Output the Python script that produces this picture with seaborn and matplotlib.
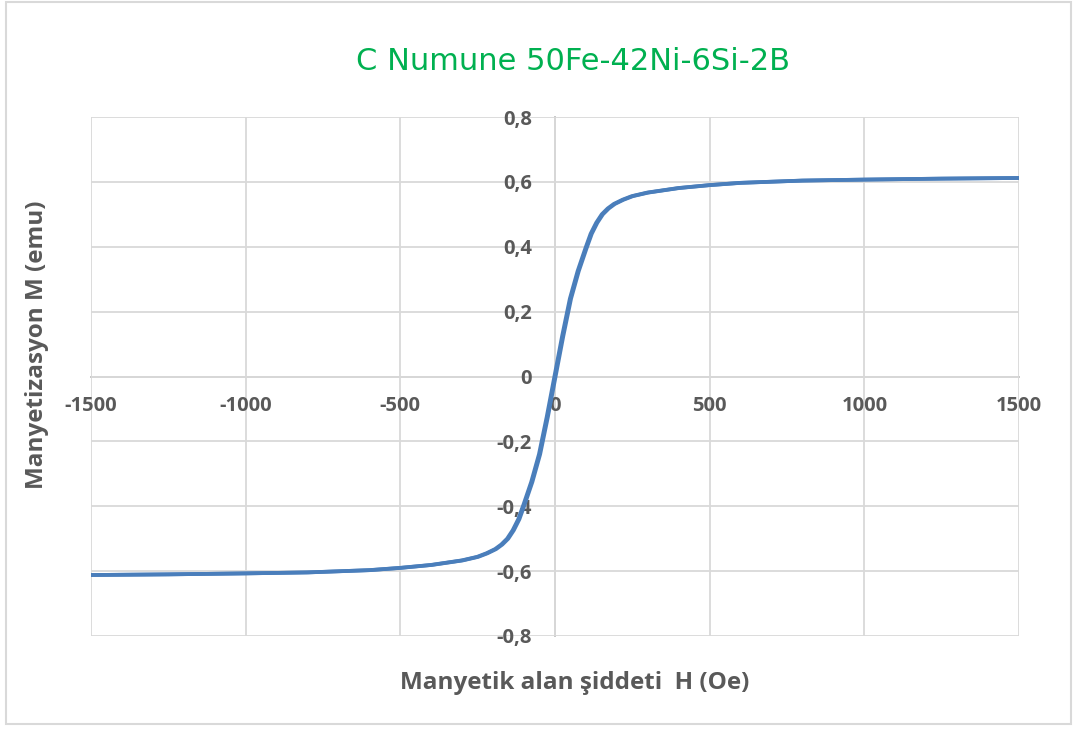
import numpy as np
import pandas as pd
import seaborn as sns
import matplotlib.pyplot as plt
from matplotlib.patches import Rectangle

# magnetization (emu), shared by both branches of the loop
m_values = [-0.612, -0.610, -0.607, -0.604, -0.597, -0.590, -0.581, -0.567, -0.556,
            -0.545, -0.532, -0.518, -0.500, -0.474, -0.440, -0.395, -0.325, -0.240,
            -0.125, 0.000, 0.125, 0.240, 0.325, 0.395, 0.440, 0.474, 0.500, 0.518,
            0.532, 0.545, 0.556, 0.567, 0.581, 0.590, 0.597, 0.604, 0.607, 0.610, 0.612]
# field values (Oe) for the rising and falling branch
h_up = [-1500, -1250, -998, -798, -598, -498, -398, -298, -248, -218, -190, -170,
        -151, -133, -115, -98, -73, -48, -23, 2, 27, 52, 77, 102, 119, 137, 155, 174,
        194, 222, 252, 302, 402, 502, 602, 802, 1002, 1250, 1500]
h_down = [-1500, -1250, -1002, -802, -602, -502, -402, -302, -252, -222, -194, -174,
          -155, -137, -119, -102, -77, -52, -27, -2, 23, 48, 73, 98, 115, 133, 151, 170,
          190, 218, 248, 298, 398, 498, 598, 798, 998, 1250, 1500]

x_ticks = [-1500, -1000, -500, 0, 500, 1000, 1500]
x_labels = ["-1500", "-1000", "-500", "0", "500", "1000", "1500"]
y_ticks = [-0.8, -0.6, -0.4, -0.2, 0, 0.2, 0.4, 0.6, 0.8]
y_labels = ["-0,8", "-0,6", "-0,4", "-0,2", "0", "0,2", "0,4", "0,6", "0,8"]

loop = pd.concat([
    pd.DataFrame({"H": h_up, "M": m_values, "branch": "up"}),
    pd.DataFrame({"H": h_down[::-1], "M": m_values[::-1], "branch": "down"}),
])

sns.set_style("white")
plt.rcParams["font.family"] = ["Open Sans", "DejaVu Sans"]
plt.rcParams["axes.unicode_minus"] = False

fig = plt.figure(figsize=(10.73, 7.29), dpi=100)
ax = fig.add_axes([91 / 1073, 1 - 636 / 729, 928 / 1073, 519 / 729])

sns.lineplot(data=loop, x="H", y="M", units="branch", estimator=None, sort=False,
             color="#4a7ebb", linewidth=2.7, ax=ax, legend=False)

ax.set_xlim(-1500, 1500)
ax.set_ylim(-0.8, 0.8)
ax.set_xticks(x_ticks)
ax.set_xticklabels(x_labels)
ax.set_yticks(y_ticks)
ax.set_yticklabels(y_labels)
ax.grid(True, color="#d9d9d9", linewidth=1.3)
ax.set_axisbelow(True)

for side in ["top", "right"]:
    ax.spines[side].set_visible(False)
ax.spines["left"].set_position(("data", 0))
ax.spines["bottom"].set_position(("data", 0))
for side in ["left", "bottom"]:
    ax.spines[side].set_color("#bfbfbf")
    ax.spines[side].set_linewidth(1.3)
    ax.spines[side].set_zorder(0.5)

ax.tick_params(axis="both", length=0, labelsize=14.5, labelcolor="#595959")
ax.tick_params(axis="x", pad=14)
ax.tick_params(axis="y", pad=16.5)
for lbl in ax.get_xticklabels() + ax.get_yticklabels():
    lbl.set_fontweight("bold")

ax.set_xlabel("Manyetik alan şiddeti  H (Oe)", fontsize=17.5, fontweight="bold",
              color="#595959")
ax.xaxis.set_label_coords(0.5216, -0.0906)
ax.xaxis.label.set_va("center")
ax.set_ylabel("Manyetizasyon M (emu)", fontsize=17.5, fontweight="bold", color="#595959")
ax.yaxis.set_label_coords(-0.058, 0.561)
ax.yaxis.label.set_va("center")

fig.text(573 / 1073, 1 - 62 / 729, "C Numune 50Fe-42Ni-6Si-2B", fontsize=22,
         color="#00b050", ha="center", va="center", family=["DejaVu Sans"])

fig.patches.append(Rectangle((6 / 1073, 5 / 729), 1065 / 1073, 722 / 729,
                             transform=fig.transFigure, fill=False,
                             edgecolor="#d9d9d9", linewidth=1.5))

plt.savefig("out.png", dpi=100)
